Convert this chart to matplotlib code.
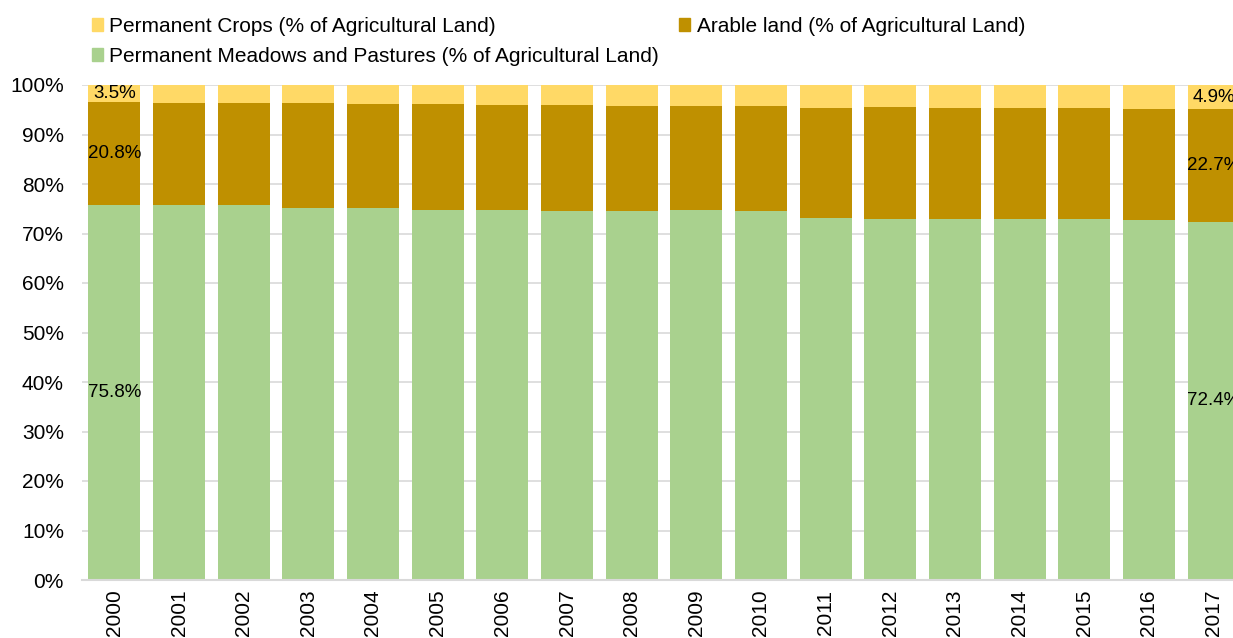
import matplotlib
matplotlib.use("Agg")
import matplotlib.pyplot as plt
from matplotlib.patches import Patch
import numpy as np

plt.rcParams['font.family'] = ['Liberation Sans', 'DejaVu Sans']

years = [str(y) for y in range(2000, 2018)]
pastures = [75.8, 75.8, 75.7, 75.2, 75.2, 74.7, 74.8, 74.6, 74.6, 74.7, 74.6, 73.1, 73.0, 72.9, 72.9, 72.9, 72.7, 72.4]
arable = [20.8, 20.6, 20.7, 21.2, 21.0, 21.4, 21.2, 21.3, 21.2, 21.1, 21.2, 22.3, 22.5, 22.5, 22.5, 22.4, 22.5, 22.7]
crops = [3.5, 3.6, 3.6, 3.6, 3.8, 3.9, 4.0, 4.1, 4.2, 4.2, 4.2, 4.6, 4.5, 4.6, 4.6, 4.7, 4.8, 4.9]

c_crops = '#FFD966'
c_arable = '#BF9000'
c_past = '#A9D18E'

fig = plt.figure(figsize=(12.33, 6.38), dpi=100)
ax = fig.add_axes([82/1233, 58/638, (1246-82)/1233, 495/638])

x = np.arange(len(years))
p = np.array(pastures)
a = np.array(arable)
c = np.array(crops)
w = 0.8
ax.bar(x, p, w, color=c_past, zorder=2)
ax.bar(x, a, w, bottom=p, color=c_arable, zorder=2)
ax.bar(x, c, w, bottom=p + a, color=c_crops, zorder=2)

for i in [0, len(years) - 1]:
    ax.text(x[i], p[i] / 2, f"{pastures[i]:.1f}%", ha='center', va='center', fontsize=13.5, zorder=3)
    ax.text(x[i], p[i] + a[i] / 2, f"{arable[i]:.1f}%", ha='center', va='center', fontsize=13.5, zorder=3)
    ax.text(x[i], p[i] + a[i] + c[i] / 2, f"{crops[i]:.1f}%", ha='center', va='center', fontsize=13.5, zorder=3)

ax.set_xlim(-0.5, len(years) - 0.5)
ax.set_ylim(0, 100)
ax.set_yticks(np.arange(0, 101, 10))
ax.set_yticklabels([f"{v}%" for v in range(0, 101, 10)], fontsize=15)
ax.set_xticks(x)
ax.set_xticklabels(years, rotation=90, fontsize=15)
ax.tick_params(axis='x', length=0, pad=7)
ax.tick_params(axis='y', length=0, pad=13)
ax.grid(axis='y', color='#D9D9D9', linewidth=1.2, zorder=0)
for s in ['top', 'right', 'left']:
    ax.spines[s].set_visible(False)
ax.spines['bottom'].set_color('#D9D9D9')
ax.spines['bottom'].set_linewidth(1.5)

handles = [Patch(color=c_crops, label='Permanent Crops (% of Agricultural Land)'),
           Patch(color=c_past, label='Permanent Meadows and Pastures (% of Agricultural Land)'),
           Patch(color=c_arable, label='Arable land (% of Agricultural Land)')]
fig.legend(handles=handles, ncol=2, loc='upper left', bbox_to_anchor=(75/1233, 1.0),
           frameon=False, fontsize=15, handlelength=0.55, handleheight=0.55,
           handletextpad=0.3, columnspacing=0.95, labelspacing=0.55, borderaxespad=0.4)

fig.savefig('out.png', dpi=100)
